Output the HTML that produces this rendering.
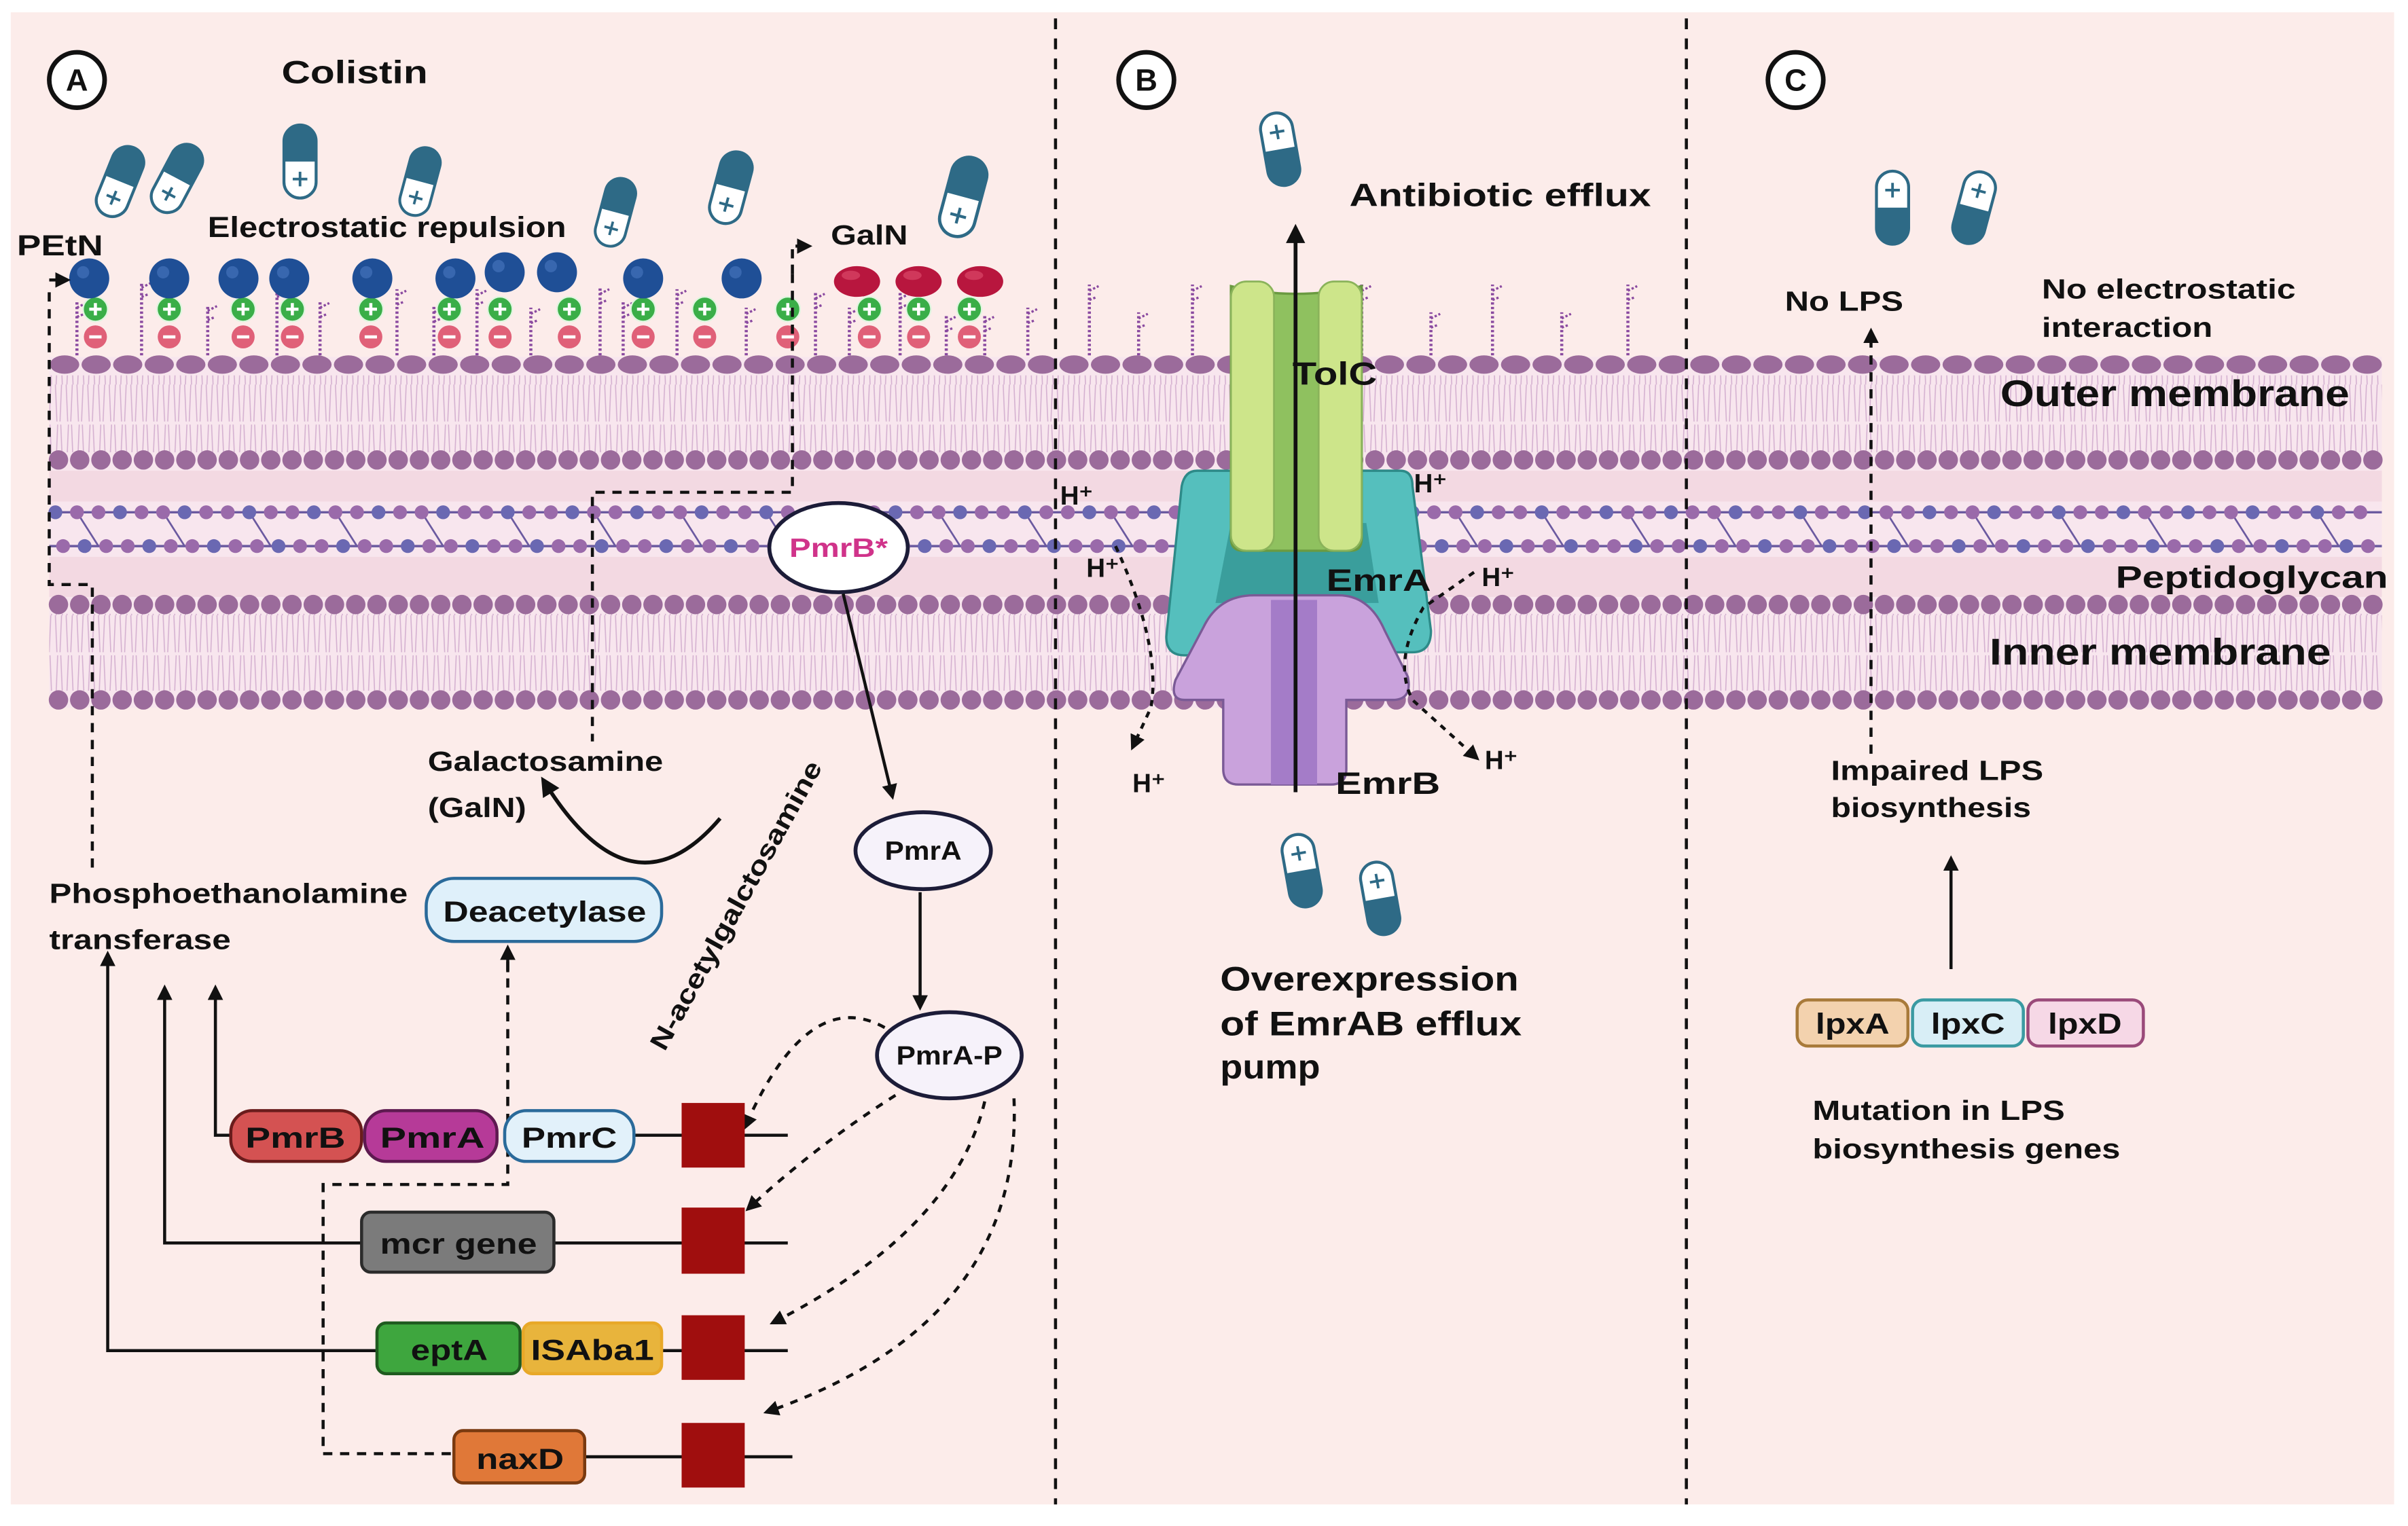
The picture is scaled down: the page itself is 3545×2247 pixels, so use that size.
<!DOCTYPE html>
<html><head><meta charset="utf-8">
<style>
html,body{margin:0;padding:0;background:#fff;}
svg{display:block;}
text{font-family:"Liberation Sans",sans-serif;font-weight:bold;fill:#111;}
</style></head>
<body>
<svg id="s" width="3545" height="2247" viewBox="0 0 1565 992" preserveAspectRatio="none" xmlns="http://www.w3.org/2000/svg">
<defs>
<marker id="ah" viewBox="0 0 10 10" refX="8" refY="5" markerWidth="5" markerHeight="5" orient="auto"><path d="M0,0L10,5L0,10z" fill="#111"/></marker>
<pattern id="tails" width="7" height="50" patternUnits="userSpaceOnUse">
<path d="M1,0 L2,24 M5,0 L4,24 M1.5,50 L2.5,26 M5.5,50 L4.5,26" stroke="#d4b0d0" stroke-width="0.7" fill="none"/>
</pattern>
<g id="pill">
<rect x="-11" y="-25" width="22" height="50" rx="11" fill="#fff" stroke="#2e6a86" stroke-width="2"/>
<path d="M-11,0 L-11,-14 A11,11 0 0 1 11,-14 L11,0 z" fill="#2e6a86"/>
<path d="M-5,12 h10 M0,7 v10" stroke="#2e6a86" stroke-width="1.8"/>
</g>
</defs>
<rect x="0" y="0" width="1565" height="992" fill="#fff"/>
<rect x="7" y="8" width="1549" height="970" fill="#fcecea"/>
<rect x="32" y="232" width="1516" height="228" fill="#f8e6ee"/>
<rect x="32" y="306" width="1516" height="20" fill="#f3d9e2"/>
<rect x="32" y="362" width="1516" height="26" fill="#f3d9e2"/>
<rect x="32" y="244" width="1516" height="50" fill="url(#tails)"/>
<rect x="32" y="399" width="1516" height="50" fill="url(#tails)"/>
<g id="mem"></g>
<g id="lps"></g>

<path d="M686,12 V978 M1096,12 V978" stroke="#111" stroke-width="2" stroke-dasharray="7,6"/>

<circle cx="50" cy="52" r="18" fill="#fff" stroke="#111" stroke-width="3"/><text x="50" y="59" font-size="20" text-anchor="middle">A</text>
<circle cx="745" cy="52" r="18" fill="#fff" stroke="#111" stroke-width="3"/><text x="745" y="59" font-size="20" text-anchor="middle">B</text>
<circle cx="1167" cy="52" r="18" fill="#fff" stroke="#111" stroke-width="3"/><text x="1167" y="59" font-size="20" text-anchor="middle">C</text>

<text x="183" y="54" font-size="21" textLength="95" lengthAdjust="spacingAndGlyphs">Colistin</text>
<text x="135" y="154" font-size="19" textLength="233" lengthAdjust="spacingAndGlyphs">Electrostatic repulsion</text>
<text x="11" y="166" font-size="19" textLength="56" lengthAdjust="spacingAndGlyphs">PEtN</text>
<text x="540" y="159" font-size="18" textLength="50" lengthAdjust="spacingAndGlyphs">GalN</text>

<use href="#pill" transform="translate(78,118) rotate(22) scale(0.95)"/>
<use href="#pill" transform="translate(115,116) rotate(28) scale(0.95)"/>
<use href="#pill" transform="translate(195,105) rotate(0) scale(0.95)"/>
<use href="#pill" transform="translate(273,118) rotate(15) scale(0.9)"/>
<use href="#pill" transform="translate(400,138) rotate(15) scale(0.9)"/>
<use href="#pill" transform="translate(475,122) rotate(15) scale(0.95)"/>
<use href="#pill" transform="translate(626,128) rotate(15) scale(1.05)"/>

<g id="balls"></g>

<g fill="none" stroke="#111" stroke-width="2" stroke-dasharray="6,5">
<path d="M32,190 V380 H60 V565"/>
<path d="M515,178 V320 H385 V482"/>
<path d="M330,625 V770 H210 V945 H295"/>
</g>
<path d="M32,182 H44" stroke="#111" stroke-width="2" marker-end="url(#ah)"/>
<path d="M515,178 V160 H526" stroke="#111" stroke-width="2" stroke-dasharray="6,4" fill="none" marker-end="url(#ah)"/>
<path d="M330,632 V616" stroke="#111" stroke-width="2" marker-end="url(#ah)"/>

<ellipse cx="545" cy="356" rx="45" ry="29" fill="#fff" stroke="#1c1c38" stroke-width="2.5"/>
<text x="545" y="362" font-size="17" text-anchor="middle" style="fill:#d0338a" textLength="64" lengthAdjust="spacingAndGlyphs">PmrB*</text>
<path d="M548,386 L580,518" stroke="#111" stroke-width="2" marker-end="url(#ah)"/>
<ellipse cx="600" cy="553" rx="44" ry="25" fill="#f6f2fa" stroke="#1c1c38" stroke-width="2.5"/>
<text x="600" y="559" font-size="17" text-anchor="middle" textLength="50" lengthAdjust="spacingAndGlyphs">PmrA</text>
<path d="M598,580 V655" stroke="#111" stroke-width="2" marker-end="url(#ah)"/>
<ellipse cx="617" cy="686" rx="47" ry="28" fill="#f6f2fa" stroke="#1c1c38" stroke-width="2.5"/>
<text x="617" y="692" font-size="17" text-anchor="middle" textLength="69" lengthAdjust="spacingAndGlyphs">PmrA-P</text>

<g fill="none" stroke="#111" stroke-width="2" stroke-dasharray="5,5" marker-end="url(#ah)">
<path d="M575,668 Q525,640 484,733"/>
<path d="M582,712 Q530,745 486,786"/>
<path d="M640,716 Q620,800 502,860"/>
<path d="M659,714 Q665,860 498,918"/>
</g>

<text x="278" y="501" font-size="18" textLength="153" lengthAdjust="spacingAndGlyphs">Galactosamine</text>
<text x="278" y="531" font-size="18" textLength="64" lengthAdjust="spacingAndGlyphs">(GalN)</text>
<path d="M468,532 Q410,600 353,507" fill="none" stroke="#111" stroke-width="2.5" marker-end="url(#ah)"/>
<text transform="translate(432,684) rotate(-61)" font-size="17" textLength="212" lengthAdjust="spacingAndGlyphs">N-acetylgalctosamine</text>

<text x="32" y="587" font-size="18" textLength="233" lengthAdjust="spacingAndGlyphs">Phosphoethanolamine</text>
<text x="32" y="617" font-size="18" textLength="118" lengthAdjust="spacingAndGlyphs">transferase</text>
<rect x="277" y="571" width="153" height="41" rx="18" fill="#dff0fa" stroke="#2a6a9a" stroke-width="2"/>
<text x="354" y="599" font-size="19" text-anchor="middle" textLength="132" lengthAdjust="spacingAndGlyphs">Deacetylase</text>

<g fill="none" stroke="#111" stroke-width="2">
<path d="M150,738 H140 V642" marker-end="url(#ah)"/>
<path d="M235,808 H107 V642" marker-end="url(#ah)"/>
<path d="M245,878 H70 V620" marker-end="url(#ah)"/>
<path d="M412,738 H512 M360,808 H512 M430,878 H512 M380,947 H515"/>
</g>
<rect x="150" y="722" width="85" height="33" rx="14" fill="#d45252" stroke="#6a1c1c" stroke-width="2"/>
<text x="192" y="746" font-size="19" text-anchor="middle" textLength="65" lengthAdjust="spacingAndGlyphs">PmrB</text>
<rect x="237" y="722" width="86" height="33" rx="14" fill="#b63a98" stroke="#5e1a50" stroke-width="2"/>
<text x="281" y="746" font-size="19" text-anchor="middle" textLength="68" lengthAdjust="spacingAndGlyphs">PmrA</text>
<rect x="328" y="722" width="84" height="33" rx="14" fill="#e2f1fa" stroke="#2a6a9a" stroke-width="2"/>
<text x="370" y="746" font-size="19" text-anchor="middle" textLength="62" lengthAdjust="spacingAndGlyphs">PmrC</text>
<rect x="235" y="788" width="125" height="39" rx="6" fill="#7b7b7b" stroke="#2b2b2b" stroke-width="2"/>
<text x="298" y="815" font-size="19" text-anchor="middle" textLength="102" lengthAdjust="spacingAndGlyphs">mcr gene</text>
<rect x="245" y="860" width="93" height="33" rx="6" fill="#3ea63e" stroke="#1f5a1f" stroke-width="2"/>
<text x="292" y="884" font-size="19" text-anchor="middle" textLength="50" lengthAdjust="spacingAndGlyphs">eptA</text>
<rect x="340" y="860" width="90" height="33" rx="6" fill="#e8b43c" stroke="#e8a828" stroke-width="2"/>
<text x="385" y="884" font-size="19" text-anchor="middle" textLength="80" lengthAdjust="spacingAndGlyphs">ISAba1</text>
<rect x="295" y="930" width="85" height="34" rx="6" fill="#e07838" stroke="#7a3a10" stroke-width="2"/>
<text x="338" y="955" font-size="19" text-anchor="middle" textLength="57" lengthAdjust="spacingAndGlyphs">naxD</text>
<g fill="#a00e0e">
<rect x="443" y="717" width="41" height="42"/>
<rect x="443" y="785" width="41" height="43"/>
<rect x="443" y="855" width="41" height="42"/>
<rect x="443" y="925" width="41" height="42"/>
</g>

<!-- Panel B -->
<use href="#pill" transform="translate(832,97) rotate(170) scale(0.95)"/>
<text x="877" y="134" font-size="21" textLength="196" lengthAdjust="spacingAndGlyphs">Antibiotic efflux</text>
<path d="M778,306 H805 L812,400 L790,426 H770 Q758,426 758,414 L768,316 Q770,306 778,306z" fill="#55bfbd" stroke="#2d8a88" stroke-width="1.5"/>
<path d="M885,306 H910 Q918,306 918,316 L930,410 Q930,424 918,424 H898 L880,400z" fill="#55bfbd" stroke="#2d8a88" stroke-width="1.5"/>
<path d="M800,340 H888 L896,392 L790,392z" fill="#3a9e9c"/>
<path d="M815,387 H870 Q890,387 900,410 L915,440 Q918,455 905,455 H875 V500 Q875,510 865,510 H805 Q795,510 795,500 V455 H770 Q760,455 764,442 L782,408 Q792,387 815,387z" fill="#c9a2dc" stroke="#7a5a96" stroke-width="1.5"/>
<rect x="826" y="390" width="30" height="120" fill="#a47cc8"/>
<path d="M800,186 Q842,196 885,186 V350 Q885,358 878,358 H808 Q800,358 800,350z" fill="#8fc15f" stroke="#6a9a40" stroke-width="1.5"/>
<rect x="800" y="183" width="28" height="175" rx="10" fill="#cde58a" stroke="#8ab35a" stroke-width="1.2"/>
<rect x="857" y="183" width="28" height="175" rx="10" fill="#cde58a" stroke="#8ab35a" stroke-width="1.2"/>
<path d="M842,515 V148" stroke="#111" stroke-width="2.5" marker-end="url(#ah)"/>
<text x="840" y="250" font-size="21" textLength="55" lengthAdjust="spacingAndGlyphs">TolC</text>
<text x="862" y="384" font-size="20" textLength="68" lengthAdjust="spacingAndGlyphs">EmrA</text>
<text x="868" y="516" font-size="20" textLength="68" lengthAdjust="spacingAndGlyphs">EmrB</text>
<g font-size="17">
<text x="689" y="328">H⁺</text><text x="919" y="320">H⁺</text>
<text x="706" y="375">H⁺</text><text x="963" y="381">H⁺</text>
<text x="736" y="515">H⁺</text><text x="965" y="500">H⁺</text>
</g>
<g fill="none" stroke="#111" stroke-width="2" stroke-dasharray="4,4">
<path d="M725,355 Q755,420 748,460 L736,486" marker-end="url(#ah)"/>
<path d="M958,372 L925,395 Q905,430 918,455 L960,493" marker-end="url(#ah)"/>
</g>
<use href="#pill" transform="translate(846,566) rotate(170) scale(0.95)"/>
<use href="#pill" transform="translate(897,584) rotate(170) scale(0.95)"/>
<text x="793" y="644" font-size="22" textLength="194" lengthAdjust="spacingAndGlyphs">Overexpression</text>
<text x="793" y="673" font-size="22" textLength="196" lengthAdjust="spacingAndGlyphs">of EmrAB efflux</text>
<text x="793" y="701" font-size="22" textLength="65" lengthAdjust="spacingAndGlyphs">pump</text>

<!-- Panel C -->
<use href="#pill" transform="translate(1230,135) rotate(180) scale(0.95)"/>
<use href="#pill" transform="translate(1283,135) rotate(195) scale(0.95)"/>
<text x="1160" y="202" font-size="18" textLength="77" lengthAdjust="spacingAndGlyphs">No LPS</text>
<text x="1327" y="194" font-size="18" textLength="165" lengthAdjust="spacingAndGlyphs">No electrostatic</text>
<text x="1327" y="219" font-size="18" textLength="111" lengthAdjust="spacingAndGlyphs">interaction</text>
<path d="M1216,490 V215" stroke="#111" stroke-width="2" stroke-dasharray="6,5" fill="none" marker-end="url(#ah)"/>
<text x="1300" y="264" font-size="24" textLength="227" lengthAdjust="spacingAndGlyphs">Outer membrane</text>
<text x="1375" y="382" font-size="20" textLength="177" lengthAdjust="spacingAndGlyphs">Peptidoglycan</text>
<text x="1293" y="432" font-size="24" textLength="222" lengthAdjust="spacingAndGlyphs">Inner membrane</text>
<text x="1190" y="507" font-size="18" textLength="138" lengthAdjust="spacingAndGlyphs">Impaired LPS</text>
<text x="1190" y="531" font-size="18" textLength="130" lengthAdjust="spacingAndGlyphs">biosynthesis</text>
<path d="M1268,630 V558" stroke="#111" stroke-width="2" marker-end="url(#ah)"/>
<rect x="1168" y="650" width="72" height="30" rx="7" fill="#f3d2ae" stroke="#a87a3a" stroke-width="2"/>
<text x="1204" y="672" font-size="19" text-anchor="middle" textLength="48" lengthAdjust="spacingAndGlyphs">lpxA</text>
<rect x="1243" y="650" width="72" height="30" rx="7" fill="#d8eef6" stroke="#3a9aa2" stroke-width="2"/>
<text x="1279" y="672" font-size="19" text-anchor="middle" textLength="48" lengthAdjust="spacingAndGlyphs">lpxC</text>
<rect x="1318" y="650" width="75" height="30" rx="7" fill="#f6d8e6" stroke="#9a4a7a" stroke-width="2"/>
<text x="1355" y="672" font-size="19" text-anchor="middle" textLength="48" lengthAdjust="spacingAndGlyphs">lpxD</text>
<text x="1178" y="728" font-size="18" textLength="164" lengthAdjust="spacingAndGlyphs">Mutation in LPS</text>
<text x="1178" y="753" font-size="18" textLength="200" lengthAdjust="spacingAndGlyphs">biosynthesis genes</text>

<script>
(function(){
var NS="http://www.w3.org/2000/svg";
function el(p,t,a){var e=document.createElementNS(NS,t);for(var k in a)e.setAttribute(k,a[k]);p.appendChild(e);return e;}
var m=document.getElementById('mem');
var head="#9b6b9b";
for(var x=42;x<1548;x+=20.5){el(m,'ellipse',{cx:x,cy:237,rx:9.5,ry:6,fill:head});}
for(var x=38;x<1548;x+=13.8){el(m,'circle',{cx:x,cy:299,r:6.3,fill:head});el(m,'circle',{cx:x,cy:393,r:6.3,fill:head});el(m,'circle',{cx:x,cy:455,r:6.3,fill:head});}
el(m,'path',{d:'M32,333 H1548 M32,355 H1548',stroke:'#6b5aa0','stroke-width':1.5});
var i=0;
for(var x=36;x<1548;x+=14,i++){
 if(i%4==1){el(m,'path',{d:'M'+x+',333 L'+(x+14)+',355',stroke:'#6b5aa0','stroke-width':1.2});}
 el(m,'circle',{cx:x,cy:333,r:4.5,fill:(i%3==0)?'#6a68b2':'#9a6aaa'});
 el(m,'circle',{cx:x+5,cy:355,r:4.5,fill:(i%3==1)?'#6a68b2':'#9a6aaa'});
}
var L=document.getElementById('lps');
var st=[[50,196],[92,183],[135,198],[180,183],[208,196],[258,188],[282,199],[310,188],[345,200],[390,187],[405,196],[440,188],[485,200],[530,190],[552,200],[585,190],[615,205],[640,205],[668,200],
[708,185],[740,203],[775,185],[885,185],[930,203],[970,185],[1015,203],[1058,185]];
st.forEach(function(s){var x=s[0],y=s[1];
 el(L,'path',{d:'M'+x+',231 V'+y,stroke:'#8a4aa0','stroke-width':2,'stroke-dasharray':'1.5,1.5'});
 el(L,'path',{d:'M'+x+','+(y+4)+' l6,-3 M'+x+','+(y+10)+' l5,-2',stroke:'#8a4aa0','stroke-width':1.5,'stroke-dasharray':'1.5,1.2'});
});
var B=document.getElementById('balls');
var pm=[62,110,158,190,241,292,325,370,418,458,512,565,597,630];
pm.forEach(function(x){
 el(B,'circle',{cx:x,cy:201,r:8,fill:'#3aae48',stroke:'#dff5df','stroke-width':1});
 el(B,'path',{d:'M'+(x-4)+',201 h8 M'+x+',197 v8',stroke:'#fff','stroke-width':2});
 el(B,'circle',{cx:x,cy:219,r:7.5,fill:'#e06078'});
 el(B,'path',{d:'M'+(x-4)+',219 h8',stroke:'#fff','stroke-width':2});
});
[[58,181],[110,181],[155,181],[188,181],[242,181],[296,181],[328,177],[362,177],[418,181],[482,181]].forEach(function(p){
 el(B,'circle',{cx:p[0],cy:p[1],r:13,fill:'#1f4f96'});
 el(B,'circle',{cx:p[0]-4,cy:p[1]-4,r:4,fill:'#4a78c0',opacity:0.6});
});
[557,597,637].forEach(function(x){el(B,'ellipse',{cx:x,cy:183,rx:15,ry:10,fill:'#b8163e'});el(B,'ellipse',{cx:x-4,cy:179,rx:6,ry:3,fill:'#e05070',opacity:0.6});});
})();
</script>
</svg>
</body></html>
